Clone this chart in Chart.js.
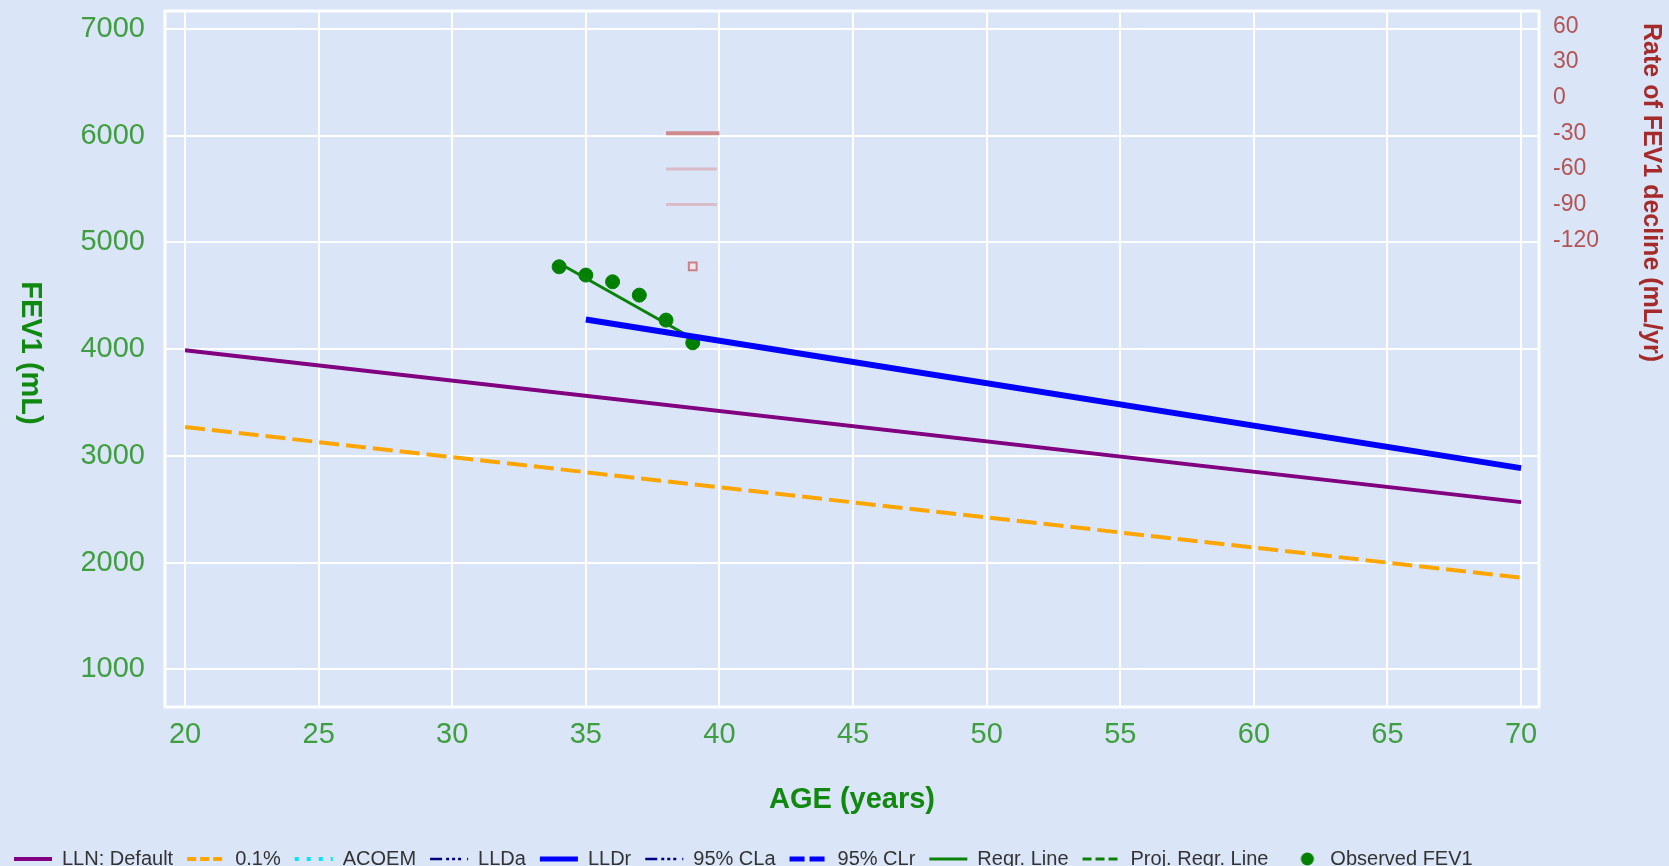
<!DOCTYPE html>
<html>
<head>
<meta charset="utf-8">
<title>FEV1 by age</title>
<script src="https://cdn.jsdelivr.net/npm/chart.js@4.4.1/dist/chart.umd.min.js"></script>
<style>
  html, body { margin: 0; padding: 0; background: #dae5f7; }
  #wrap { position: relative; width: 1669px; height: 866px; }
</style>
</head>
<body>
<div id="wrap"><canvas id="fevChart"></canvas></div>
<script>
// FEV1 lines (age in years, FEV1 in mL)
const llnAges = [20, 70];
const llnFev1 = [3990, 2566];
const pctAges = [20, 70];
const pctFev1 = [3270, 1858];
const lldrAges = [35, 70];
const lldrFev1 = [4278, 2885];
const regrAges = [34, 39];
const regrFev1 = [4805, 4100];

// observed FEV1 tests
const obsAges = [34, 35, 36, 37, 38, 39];
const obsFev1 = [4772, 4694, 4631, 4506, 4272, 4059];

// rate of decline markers (right axis, mL/yr)
const rateBarAges = [38, 40];
const rateLevels = [-30, -60, -90];
const rateAge = [39];
const rateValue = [-142];

// tick labels
const ageTicks = [20, 25, 30, 35, 40, 45, 50, 55, 60, 65, 70];
const fevTicks = [1000, 2000, 3000, 4000, 5000, 6000, 7000];
const rateTicks = [60, 30, 0, -30, -60, -90, -120];

const FONT = '"Liberation Sans", Arial, sans-serif';
const tickGreen = '#3f9e3f';
const titleGreen = '#11880f';
const rateRed = '#b35454';

// pairs two arrays into {x, y} points
const pts = (xs, ys) => xs.map((x, i) => ({ x: x, y: ys[i] }));

// fixed axis sizes, and no extra room asked for the end labels
const fixSize = (w, h) => (s) => {
  if (w !== null) s.width = w;
  if (h !== null) s.height = h;
  s.paddingTop = 0;
  s.paddingBottom = 0;
  s.paddingLeft = 0;
  s.paddingRight = 0;
};

// little dot image for the "Observed FEV1" legend entry
const dotIcon = document.createElement('canvas');
dotIcon.width = 38;
dotIcon.height = 16;
(function () {
  const c = dotIcon.getContext('2d');
  c.fillStyle = '#008000';
  c.beginPath();
  c.arc(25, 8, 6.5, 0, Math.PI * 2);
  c.fill();
})();

const datasets = [
  { label: 'LLN: Default', data: pts(llnAges, llnFev1), borderColor: '#800080', borderWidth: 4 },
  { label: '0.1%', data: pts(pctAges, pctFev1), borderColor: '#ffa500', borderWidth: 4, borderDash: [20, 7], legendDash: [9, 4] },
  { label: 'ACOEM', data: [], borderColor: '#00e5ff', borderWidth: 4, borderDash: [4, 8] },
  { label: 'LLDa', data: [], borderColor: '#000080', borderWidth: 2.5, borderDash: [12, 4, 3, 3, 3, 3, 3, 6] },
  { label: 'LLDr', data: pts(lldrAges, lldrFev1), borderColor: '#0000ff', borderWidth: 6, legendWidth: 5 },
  { label: '95% CLa', data: [], borderColor: '#000080', borderWidth: 2.5, borderDash: [12, 4, 3, 3, 3, 3, 3, 6] },
  { label: '95% CLr', data: [], borderColor: '#0000ff', borderWidth: 5, borderDash: [15, 5] },
  { label: 'Regr. Line', data: pts(regrAges, regrFev1), borderColor: '#0a820a', borderWidth: 3 },
  { label: 'Proj. Regr. Line', data: [], borderColor: '#0a820a', borderWidth: 3, borderDash: [9, 4] },
  { label: 'Observed FEV1', data: pts(obsAges, obsFev1), showLine: false, pointRadius: 7,
    pointBackgroundColor: '#008000', pointBorderColor: '#008000', legendIcon: dotIcon },
  // rate of decline bars and the observed rate, not in the legend
  { label: 'rate -30', data: pts(rateBarAges, [rateLevels[0], rateLevels[0]]), yAxisID: 'rate', borderColor: '#cf8a8e', borderWidth: 4, inLegend: false },
  { label: 'rate -60', data: pts([38, 39.9], [rateLevels[1], rateLevels[1]]), yAxisID: 'rate', borderColor: '#d9bcc8', borderWidth: 3, inLegend: false },
  { label: 'rate -90', data: pts([38, 39.9], [rateLevels[2], rateLevels[2]]), yAxisID: 'rate', borderColor: '#d9bcc8', borderWidth: 3, inLegend: false },
  { label: 'rate observed', data: pts(rateAge, rateValue), yAxisID: 'rate', showLine: false, pointStyle: 'rect',
    pointRadius: 5.5, pointBorderWidth: 2, pointBorderColor: '#c98088', pointBackgroundColor: '#f3e4ea', inLegend: false }
];

datasets.forEach((d) => {
  if (d.showLine === undefined) d.showLine = true;
  if (d.pointRadius === undefined) d.pointRadius = 0;
  if (!d.yAxisID) d.yAxisID = 'y';
});

// white frame round the plot area
const plotFrame = {
  id: 'plotFrame',
  beforeDatasetsDraw(chart) {
    const { ctx, chartArea: a } = chart;
    ctx.save();
    ctx.strokeStyle = '#ffffff';
    ctx.lineWidth = 3;
    ctx.strokeRect(a.left, a.top, a.right - a.left, a.bottom - a.top);
    ctx.restore();
  }
};

// both side titles read top to bottom
const sideTitles = {
  id: 'sideTitles',
  afterDraw(chart) {
    const ctx = chart.ctx;
    ctx.save();
    ctx.textBaseline = 'middle';
    ctx.font = 'bold 29px ' + FONT;
    ctx.fillStyle = titleGreen;
    ctx.translate(30, 353);
    ctx.rotate(Math.PI / 2);
    ctx.textAlign = 'center';
    ctx.fillText('FEV1 (mL)', 0, 0);
    ctx.restore();

    ctx.save();
    ctx.textBaseline = 'middle';
    ctx.font = 'bold 25px ' + FONT;
    ctx.fillStyle = '#a52a2a';
    ctx.translate(1651, 23);
    ctx.rotate(Math.PI / 2);
    ctx.textAlign = 'left';
    ctx.fillText('Rate of FEV1 decline (mL/yr)', 0, 0);
    ctx.restore();
  }
};

new Chart(document.getElementById('fevChart'), {
  type: 'scatter',
  data: { datasets: datasets },
  options: {
    responsive: true,
    maintainAspectRatio: false,
    animation: false,
    layout: { padding: { top: 11, left: 0, right: 0, bottom: -13 } },
    plugins: {
      tooltip: { enabled: false },
      legend: {
        position: 'bottom',
        align: 'start',
        labels: {
          usePointStyle: true,
          pointStyleWidth: 38,
          padding: 14,
          color: '#333333',
          font: { family: FONT, size: 20 },
          generateLabels: (chart) => chart.data.datasets
            .map((d, i) => ({ d: d, i: i }))
            .filter((o) => o.d.inLegend !== false)
            .map((o) => ({
              text: o.d.label,
              datasetIndex: o.i,
              fillStyle: o.d.legendIcon ? '#008000' : 'transparent',
              strokeStyle: o.d.borderColor || '#008000',
              lineWidth: o.d.legendIcon ? 0 : (o.d.legendWidth || o.d.borderWidth),
              lineDash: o.d.legendDash || o.d.borderDash || [],
              lineCap: 'butt',
              pointStyle: o.d.legendIcon || 'line',
              fontColor: '#333333',
              hidden: false
            }))
        }
      }
    },
    scales: {
      x: {
        type: 'linear',
        min: 19.25,
        max: 70.67,
        afterBuildTicks: (s) => { s.ticks = ageTicks.map((v) => ({ value: v })); },
        afterFit: fixSize(null, 128),
        grid: { color: '#ffffff', lineWidth: 2, drawTicks: false },
        border: { display: false },
        ticks: { color: tickGreen, font: { family: FONT, size: 29 }, padding: 11, maxRotation: 0, autoSkip: false,
          callback: (v) => String(v) },
        title: { display: true, text: 'AGE (years)', color: titleGreen, font: { family: FONT, size: 29, weight: 'bold' },
          padding: { top: 0, bottom: 18 } }
      },
      y: {
        position: 'left',
        min: 646,
        max: 7169,
        afterBuildTicks: (s) => { s.ticks = fevTicks.map((v) => ({ value: v })); },
        afterFit: fixSize(165, null),
        grid: { color: '#ffffff', lineWidth: 2, drawTicks: false },
        border: { display: false },
        ticks: { color: tickGreen, font: { family: FONT, size: 29 }, padding: 20, callback: (v) => String(v) }
      },
      rate: {
        position: 'right',
        min: -513,
        max: 73,
        afterBuildTicks: (s) => { s.ticks = rateTicks.map((v) => ({ value: v })); },
        afterFit: fixSize(130, null),
        grid: { display: false, drawTicks: false },
        border: { display: false },
        ticks: { color: rateRed, font: { family: FONT, size: 23 }, padding: 14, callback: (v) => String(v) }
      }
    }
  },
  plugins: [plotFrame, sideTitles]
});
</script>
</body>
</html>
